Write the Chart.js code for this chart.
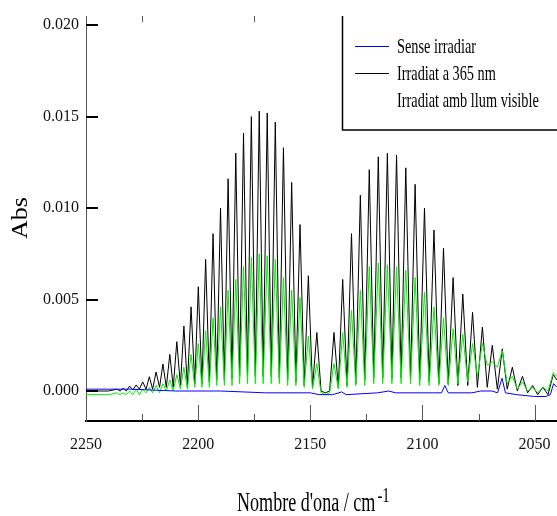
<!DOCTYPE html>
<html>
<head>
<meta charset="utf-8">
<script src="https://cdn.jsdelivr.net/npm/chart.js@4.4.0/dist/chart.umd.min.js"></script>
<style>
  body { margin: 0; background: #fff; }
  #wrap { width: 557px; height: 516px; }
</style>
</head>
<body>
<div id="wrap"><canvas id="myChart" width="557" height="516"></canvas></div>
<script>
// line positions (cm-1), R branch then P branch
const lineCm = [2236.2, 2233.4, 2230.55, 2227.66, 2224.73, 2221.76, 2218.76, 2215.71, 2212.63, 2209.51,
  2206.35, 2203.16, 2199.93, 2196.66, 2193.36, 2190.02, 2186.64, 2183.22, 2179.77, 2176.28,
  2172.76, 2169.20, 2165.60, 2161.97, 2158.30, 2154.59, 2150.86, 2147.08,
  2139.43, 2135.55, 2131.63, 2127.68, 2123.70, 2119.68, 2115.63, 2111.54, 2107.42, 2103.27,
  2099.08, 2094.86, 2090.61, 2086.32, 2082.00, 2077.65, 2073.26, 2068.85, 2064.40, 2059.91,
  2055.40, 2050.85, 2046.28, 2041.67];
const blackPeak = [0.0001, 0.00015, 0.00027, 0.00033, 0.0005, 0.00078, 0.00104, 0.00148, 0.0020, 0.0027,
  0.00355, 0.0046, 0.0057, 0.0072, 0.0086, 0.0100, 0.0116, 0.0130, 0.0141, 0.0150,
  0.0153, 0.0152, 0.0147, 0.0133, 0.0114, 0.0091, 0.0063, 0.0032,
  0.0032, 0.0061, 0.0086, 0.0107, 0.0121, 0.0128, 0.0130, 0.0129, 0.0122, 0.0113,
  0.0100, 0.0088, 0.0078, 0.0062, 0.0053, 0.0043, 0.0035, 0.0025, 0.0023, 0.0013,
  0.0008, 0.0003, 0.0002, 0.0009];
const greenPeak = [-0.0001, -0.0001, 0.0000, 0.0001, 0.0001, 0.0002, 0.0003, 0.0004, 0.0006, 0.0009,
  0.0013, 0.0020, 0.0026, 0.0033, 0.0040, 0.0046, 0.0055, 0.0061, 0.0068, 0.0073,
  0.0075, 0.0074, 0.0072, 0.0062, 0.0055, 0.0051, 0.0030, 0.0015,
  0.0015, 0.0032, 0.0044, 0.0055, 0.0068, 0.0070, 0.0069, 0.0068, 0.0066, 0.0062,
  0.0054, 0.0046, 0.0040, 0.0034, 0.0031, 0.0026, 0.0026, 0.0016, 0.0022, 0.0008,
  0.0005, 0.0002, 0.0002, 0.0010];

// minima between the lines
const dipCm = [2250, 2240,
  2234.8, 2232.0, 2229.1, 2226.2, 2223.2, 2220.3, 2217.2, 2214.2, 2211.1, 2207.9,
  2204.8, 2201.5, 2198.3, 2195.0, 2191.7, 2188.3, 2184.9, 2181.5, 2178.0, 2174.5,
  2171.0, 2167.4, 2163.8, 2160.1, 2156.4, 2152.7, 2149.0,
  2145.2, 2143.3, 2141.4,
  2137.5, 2133.6, 2129.7, 2125.7, 2121.7, 2117.7, 2113.6, 2109.5, 2105.3, 2101.2,
  2097.0, 2092.7, 2088.5, 2084.2, 2079.8, 2075.5, 2071.1, 2066.6, 2062.2, 2057.7,
  2053.1, 2048.6, 2044.0,
  2040];
const blackDip = [0.0000, 0.0000,
  0.0000, 0.0000, 0.00005, 0.0001, 0.0001, 0.0001, 0.0002, 0.0002, 0.0002, 0.0003,
  0.0003, 0.0004, 0.0004, 0.0005, 0.0006, 0.0006, 0.0007, 0.0008, 0.0008, 0.0008,
  0.0008, 0.0008, 0.0007, 0.0006, 0.0005, 0.0003, 0.0002,
  0.0000, -0.0001, 0.0000,
  0.0002, 0.0003, 0.0004, 0.0006, 0.0007, 0.0007, 0.0007, 0.0007, 0.0006, 0.0006,
  0.0005, 0.0004, 0.0004, 0.0003, 0.0003, 0.0002, 0.0002, 0.0001, 0.0001, 0.0000,
  -0.0001, -0.0002, -0.0002,
  0.0006];
const greenDip = [-0.0002, -0.0002,
  -0.0002, -0.0002, -0.0002, -0.0002, -0.0001, -0.0001, -0.0001, 0.0000, 0.0000, 0.0001,
  0.0001, 0.0002, 0.0002, 0.0002, 0.0003, 0.0003, 0.0003, 0.0004, 0.0004, 0.0004,
  0.0004, 0.0004, 0.0004, 0.0003, 0.0003, 0.0002, 0.0001,
  -0.0001, -0.0002, -0.0001,
  0.0001, 0.0002, 0.0003, 0.0003, 0.0004, 0.0004, 0.0004, 0.0004, 0.0004, 0.0003,
  0.0003, 0.0003, 0.0003, 0.0004, 0.0005, 0.0008, 0.0014, 0.0013, 0.0004, 0.0001,
  0.0000, -0.0001, 0.0000,
  0.0008];

const blueCm = [2250, 2230, 2210, 2190, 2170, 2150, 2146, 2140, 2136, 2134, 2120, 2115, 2112, 2095,
  2091.5, 2090, 2088.5, 2078, 2074, 2069, 2066.5, 2064.5, 2063, 2058, 2050, 2045, 2043, 2041.5, 2040];
const blueAbs = [0.0001, 0.0001, 0.0000, 0.0000, -0.0001, -0.0001, -0.0002, -0.0002, -0.00005, -0.0002,
  -0.0001, 0.0000, -0.0001, -0.0001, -0.0001, 0.0003, -0.0001, -0.0001, 0.0000, 0.0000, -0.0001,
  0.0007, -0.0001, -0.0002, -0.0003, -0.0003, -0.0002, 0.0004, 0.0002];

const xTicks = [2250, 2200, 2150, 2100, 2050];
const xMinorTicks = [2225, 2175, 2125, 2075];
const xTopTicks = [2225, 2175, 2050];
const yTicks = [0, 0.005, 0.010, 0.015, 0.020];
const seriesNames = ['Sense irradiar', 'Irradiat a 365 nm', 'Irradiat amb llum visible'];

function spectrum(peakX, peakY, dipX, dipY) {
  const pts = [];
  peakX.forEach((x, i) => pts.push({ x: x, y: peakY[i] }));
  dipX.forEach((x, i) => pts.push({ x: x, y: dipY[i] }));
  return pts.sort((a, b) => b.x - a.x);
}

const serif = '"Liberation Serif", "Times New Roman", serif';

// ticks inside the frame, legend box and axis titles
const decor = {
  id: 'decor',
  afterDraw(chart) {
    const c = chart.ctx, xs = chart.scales.x, ys = chart.scales.y, a = chart.chartArea;
    c.save();
    c.strokeStyle = '#555';
    c.lineWidth = 1;
    c.beginPath();
    xTicks.forEach(v => {
      const p = Math.round(xs.getPixelForValue(v)) + 0.5;
      c.moveTo(p, a.bottom); c.lineTo(p, a.bottom - 16);
    });
    xMinorTicks.forEach(v => {
      const p = Math.round(xs.getPixelForValue(v)) + 0.5;
      c.moveTo(p, a.bottom); c.lineTo(p, a.bottom - 7);
    });
    xTopTicks.forEach(v => {
      const p = Math.round(xs.getPixelForValue(v)) + 0.5;
      c.moveTo(p, a.top); c.lineTo(p, a.top + 6);
    });
    c.stroke();

    c.strokeStyle = '#000';
    c.lineWidth = 2;
    c.beginPath();
    yTicks.forEach(v => {
      const p = Math.round(ys.getPixelForValue(v));
      c.moveTo(a.left, p); c.lineTo(a.left + 12, p);
    });
    c.stroke();

    // legend
    c.fillStyle = '#fff';
    c.fillRect(342, a.top, chart.width - 342, 130 - a.top);
    c.strokeStyle = '#000';
    c.lineWidth = 1.5;
    c.beginPath();
    c.moveTo(342.5, a.top); c.lineTo(342.5, 130); c.lineTo(chart.width, 130);
    c.stroke();
    const ds = chart.data.datasets;
    [0, 1, 2].forEach(i => {
      const d = ds.find(s => s.label === seriesNames[i]);
      const y = 46 + i * 27;
      if (i < 2) {
        c.strokeStyle = d.borderColor;
        c.lineWidth = 1;
        c.beginPath();
        c.moveTo(355, y + 0.5); c.lineTo(389, y + 0.5);
        c.stroke();
      }
      c.save();
      c.translate(397, y + 7);
      c.scale(0.65, 1);
      c.font = '22px ' + serif;
      c.fillStyle = '#000';
      c.fillText(seriesNames[i], 0, 0);
      c.restore();
    });

    // y title
    c.save();
    c.translate(21, 218);
    c.rotate(-Math.PI / 2);
    c.scale(1, 0.85);
    c.font = '26px ' + serif;
    c.fillStyle = '#000';
    c.textAlign = 'center';
    c.textBaseline = 'middle';
    c.fillText('Abs', 0, 0);
    c.restore();

    // x title with superscript
    c.save();
    c.translate(237, 511);
    c.scale(0.67, 1);
    c.fillStyle = '#000';
    c.font = '27px ' + serif;
    const main = "Nombre d'ona / cm";
    c.fillText(main, 0, 0);
    const w = c.measureText(main).width;
    c.font = '22px ' + serif;
    c.fillText('-1', w + 3, -9);
    c.restore();
    c.restore();
  }
};

const ctx = document.getElementById('myChart');

new Chart(ctx, {
  type: 'line',
  data: {
    datasets: [{
      label: seriesNames[0],
      data: blueCm.map((x, i) => ({ x: x, y: blueAbs[i] })),
      borderColor: '#0000ff',
      borderWidth: 1,
      order: 0
    }, {
      label: seriesNames[2],
      data: spectrum(lineCm, greenPeak, dipCm, greenDip),
      borderColor: '#00ee00',
      borderWidth: 1,
      order: 1
    }, {
      label: seriesNames[1],
      data: spectrum(lineCm, blackPeak, dipCm, blackDip),
      borderColor: '#000000',
      borderWidth: 1,
      order: 2
    }]
  },
  options: {
    responsive: false,
    animation: false,
    devicePixelRatio: 1,
    layout: { padding: { top: 16, right: 0, left: 0, bottom: 0 } },
    elements: { point: { radius: 0 }, line: { tension: 0 } },
    plugins: { legend: { display: false }, tooltip: { enabled: false } },
    scales: {
      x: {
        type: 'linear',
        reverse: true,
        min: 2040,
        max: 2250,
        afterBuildTicks: s => { s.ticks = xTicks.map(v => ({ value: v })); },
        afterFit: s => { s.height = 95; s.paddingLeft = 0; s.paddingRight = 0; },
        grid: { display: false, drawTicks: false },
        border: { color: '#000', width: 2 },
        ticks: {
          padding: 14,
          color: '#111',
          font: { family: serif, size: 16 },
          callback: v => String(v)
        }
      },
      y: {
        min: -0.00164,
        max: 0.0205,
        afterBuildTicks: s => { s.ticks = yTicks.map(v => ({ value: v })); },
        afterFit: s => { s.width = 86; s.paddingTop = 0; s.paddingBottom = 0; },
        grid: { display: false, drawTicks: false },
        border: { color: '#555', width: 1 },
        ticks: {
          padding: 7,
          color: '#111',
          font: { family: serif, size: 16 },
          callback: v => v.toFixed(3)
        }
      }
    }
  },
  plugins: [decor]
});
</script>
</body>
</html>
